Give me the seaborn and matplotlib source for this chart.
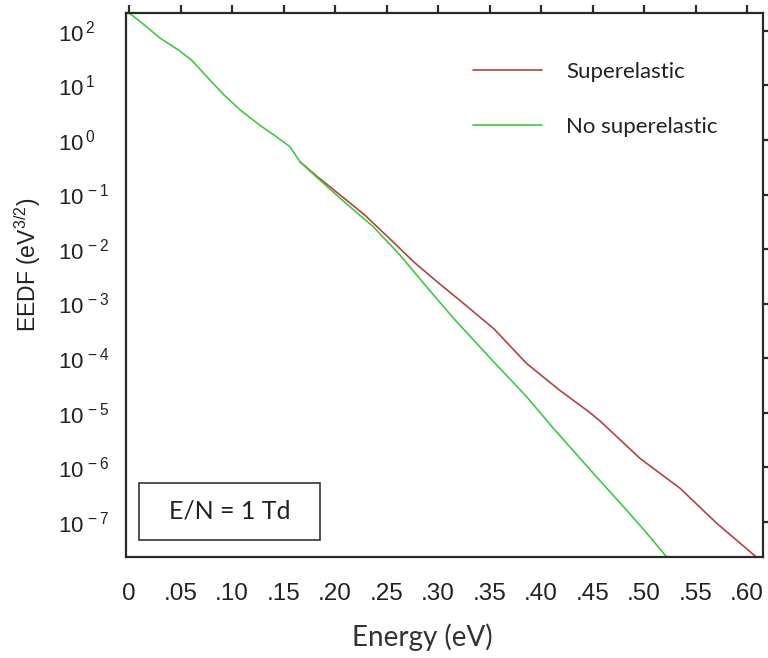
import numpy as np
import pandas as pd
import matplotlib
matplotlib.use("Agg")
import matplotlib.pyplot as plt
import matplotlib.patches as mpatches
import seaborn as sns

# ---------------- data ----------------
green_energy = [0.000, 0.011, 0.030, 0.048, 0.061, 0.077, 0.092, 0.108, 0.127, 0.143,
                0.156, 0.166, 0.182, 0.205, 0.237, 0.263, 0.286, 0.315, 0.354, 0.386,
                0.412, 0.451, 0.483, 0.503, 0.522]
green_log_eedf = [2.33, 2.17, 1.87, 1.65, 1.46, 1.13, 0.83, 0.55, 0.27, 0.06,
                  -0.12, -0.40, -0.68, -1.07, -1.59, -2.11, -2.63, -3.27, -4.07, -4.71,
                  -5.29, -6.12, -6.79, -7.22, -7.65]

red_energy = [0.166, 0.182, 0.205, 0.229, 0.258, 0.276, 0.299, 0.321, 0.354, 0.386,
              0.418, 0.446, 0.457, 0.496, 0.535, 0.5705, 0.609]
red_log_eedf = [-0.40, -0.66, -1.01, -1.38, -1.90, -2.23, -2.60, -2.94, -3.46, -4.10,
                -4.59, -4.98, -5.15, -5.84, -6.39, -7.03, -7.65]

series_names = ["Superelastic", "No superelastic"]
series_colors = ["#b8413f", "#3ccc3c"]

x_ticks = [0.0, 0.05, 0.10, 0.15, 0.20, 0.25, 0.30, 0.35, 0.40, 0.45, 0.50, 0.55, 0.60]
x_tick_labels = ["0", ".05", ".10", ".15", ".20", ".25", ".30", ".35", ".40", ".45",
                 ".50", ".55", ".60"]
y_tick_exponents = [2, 1, 0, -1, -2, -3, -4, -5, -6, -7]
y_tick_labels = [r"$10^{\,%d}$" % e for e in y_tick_exponents]

annotation_text = "E/N = 1 Td"
x_label = "Energy (eV)"
y_label = r"EEDF (eV$^{3/2}$)"

# ---------------- build table ----------------
df = pd.concat([
    pd.DataFrame({"Energy": red_energy,
                  "EEDF": np.power(10.0, red_log_eedf),
                  "Case": series_names[0]}),
    pd.DataFrame({"Energy": green_energy,
                  "EEDF": np.power(10.0, green_log_eedf),
                  "Case": series_names[1]}),
], ignore_index=True)

# ---------------- style ----------------
sns.set_style("white")
plt.rcParams["font.family"] = ["Liberation Sans", "DejaVu Sans"]
plt.rcParams["mathtext.fontset"] = "custom"
plt.rcParams["mathtext.rm"] = "Liberation Sans"
plt.rcParams["mathtext.it"] = "Liberation Sans:italic"
plt.rcParams["mathtext.bf"] = "Liberation Sans:bold"

text_color = "#222222"
spine_color = "#2a2a2a"

fig = plt.figure(figsize=(7.68, 6.58), dpi=100)
ax = fig.add_axes([126 / 768, 1 - 557 / 658, 637 / 768, 544 / 658])

sns.lineplot(data=df, x="Energy", y="EEDF", hue="Case",
             hue_order=series_names, palette=dict(zip(series_names, series_colors)),
             estimator=None, sort=False, linewidth=1.2, legend=False, ax=ax)

ax.set_yscale("log")
ax.set_xlim(-0.003, 0.6155)
ax.set_ylim(10 ** -7.65, 10 ** 2.33)

ax.set_xticks(x_ticks)
ax.set_xticklabels(x_tick_labels)
ax.set_yticks([10.0 ** e for e in y_tick_exponents])
ax.set_yticklabels(y_tick_labels)
ax.yaxis.set_minor_locator(matplotlib.ticker.NullLocator())

for s in ax.spines.values():
    s.set_color(spine_color)
    s.set_linewidth(1.6)

tick_len_pt = 6
ax.tick_params(axis="both", which="major", direction="out", length=tick_len_pt, width=1.6,
               color=spine_color, top=True, right=True, labelcolor=text_color)
ax.tick_params(axis="x", labelsize=17.5, pad=13)
# y tick labels are left-aligned at x = 58 px in the reference
y_pad_pt = (126 - 58) * 72 / 100 - tick_len_pt
ax.tick_params(axis="y", labelsize=16, pad=y_pad_pt)
for lbl in ax.get_yticklabels():
    lbl.set_horizontalalignment("left")

ax.set_xlabel(x_label, fontsize=20, color="#333333", family=["Lato", "DejaVu Sans"])
ax.xaxis.set_label_coords((422 - 126) / 637, (557 - 637) / 544)
ax.xaxis.label.set_va("center")
ax.set_ylabel(y_label, fontsize=16.5, color=text_color)
ax.yaxis.set_label_coords((28 - 126) / 637, (557 - 265) / 544)
ax.yaxis.label.set_va("center")

# legend
handles = ax.get_lines()[:2]
leg = ax.legend(handles, series_names, loc="upper left",
                bbox_to_anchor=(473 / 768, 1 - 62 / 658), bbox_transform=fig.transFigure,
                frameon=False, borderpad=0, borderaxespad=0, handlelength=3.1,
                handletextpad=1.1, labelspacing=1.58,
                prop={"family": ["Lato", "DejaVu Sans"], "size": 16})
for t in leg.get_texts():
    t.set_color(text_color)

# annotation box
rect = mpatches.Rectangle(((139 - 126) / 637, (557 - 540) / 544), 181 / 637, 57 / 544,
                          transform=ax.transAxes, facecolor="white",
                          edgecolor="#333333", linewidth=1.2, zorder=5)
ax.add_patch(rect)
ax.text((230 - 126) / 637, (557 - 511) / 544, annotation_text, transform=ax.transAxes,
        ha="center", va="center", fontsize=18, color=text_color,
        family=["Lato", "DejaVu Sans"], zorder=6)

fig.savefig("out.png", dpi=100)
